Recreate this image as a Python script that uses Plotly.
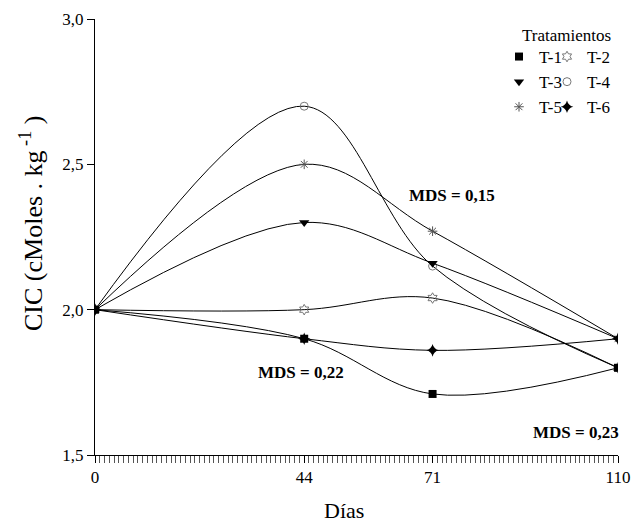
import plotly.graph_objects as go

dias = [0, 44, 71, 110]
series = {
    "T-1": [2.00, 1.90, 1.71, 1.80],
    "T-2": [2.00, 2.00, 2.04, 1.80],
    "T-3": [2.00, 2.30, 2.16, 1.90],
    "T-4": [2.00, 2.70, 2.15, 1.80],
    "T-5": [2.00, 2.50, 2.27, 1.90],
    "T-6": [2.00, 1.90, 1.86, 1.90],
}
y_ticks = [1.5, 2.0, 2.5, 3.0]
y_ticklabels = ["1,5", "2,0", "2,5", "3,0"]
x_ticks = [0, 44, 71, 110]

styles = {
    "T-1": dict(symbol="square", size=8, color="black", line=dict(width=0)),
    "T-2": dict(symbol="hexagram-open", size=8, color="#777", line=dict(width=1, color="#777")),
    "T-3": dict(symbol="triangle-down", size=9, color="black", line=dict(width=0)),
    "T-4": dict(symbol="circle-open", size=8, color="#777", line=dict(width=1, color="#777")),
    "T-5": dict(symbol="asterisk-open", size=8, color="#555", line=dict(width=1, color="#555")),
    "T-6": dict(symbol="star-diamond", size=9, color="black", line=dict(width=0)),
}
legend_of = {"T-1": "legend", "T-3": "legend", "T-5": "legend",
             "T-2": "legend2", "T-4": "legend2", "T-6": "legend2"}
draw_order = ["T-2", "T-4", "T-5", "T-6", "T-3", "T-1"]

fig = go.Figure()
for name in draw_order:
    fig.add_trace(go.Scatter(
        x=dias, y=series[name], name=name, mode="lines+markers",
        line=dict(color="black", width=1, shape="spline", smoothing=1.0),
        marker=styles[name], showlegend=False,
    ))
# legend entries (marker only, two columns)
for name in ["T-1", "T-3", "T-5", "T-2", "T-4", "T-6"]:
    fig.add_trace(go.Scatter(
        x=[None], y=[None], name=name, mode="markers",
        marker=styles[name], legend=legend_of[name], showlegend=True,
    ))

font = "Liberation Serif"
L, R, T, B = 95, 16, 19, 72
pw, ph = 634 - L - R, 527 - T - B


def px_x(px):
    return (px - L) / pw


def px_y(py):
    return 1 - (py - T) / ph


def label(text, x, y, size, angle=0):
    return dict(text=text, x=px_x(x), y=px_y(y), xref="paper", yref="paper",
                xanchor="center", yanchor="middle", showarrow=False, textangle=angle,
                font=dict(size=size, family=font, color="black"))


leg_common = dict(orientation="v", yanchor="top", xanchor="left",
                  itemwidth=30, font=dict(size=17, family=font), bgcolor="rgba(0,0,0,0)",
                  borderwidth=0, traceorder="normal")

fig.update_layout(
    width=634, height=527,
    margin=dict(l=L, r=R, t=T, b=B, autoexpand=False),
    plot_bgcolor="white", paper_bgcolor="white",
    font=dict(family=font, size=17, color="black"),
    showlegend=True,
    legend=dict(x=px_x(499), y=px_y(39), **leg_common),
    legend2=dict(x=px_x(547), y=px_y(39), **leg_common),
    xaxis=dict(
        range=[0, 110], tickmode="array", tickvals=x_ticks,
        ticktext=[str(v) for v in x_ticks],
        showline=True, linecolor="black", linewidth=1,
        ticks="outside", ticklen=7, tickcolor="black", tickwidth=1,
        showgrid=False, zeroline=False,
        minor=dict(dtick=1, tick0=0, ticks="outside", ticklen=7, tickcolor="#555", tickwidth=1, showgrid=False),
        tickfont=dict(size=17, family=font),
    ),
    yaxis=dict(
        range=[1.5, 3.0], tickmode="array", tickvals=y_ticks, ticktext=y_ticklabels,
        showline=True, linecolor="black", linewidth=1,
        ticks="outside", ticklen=7, tickcolor="black", tickwidth=1,
        showgrid=False, zeroline=False,
        tickfont=dict(size=17, family=font),
    ),
    annotations=[
        label("Tratamientos", 566, 35, 17),
        label("<b>MDS = 0,15</b>", 452, 195, 17),
        label("<b>MDS = 0,22</b>", 301, 372, 17),
        label("<b>MDS = 0,23</b>", 576, 432, 17),
        label("Días", 344, 510, 22),
        label("CIC (cMoles . kg<sup> -1</sup> )", 31, 224, 26, angle=-90),
    ],
)

fig.write_html("out.html", config={"displayModeBar": False},
               post_script="document.body.style.margin='0';")
